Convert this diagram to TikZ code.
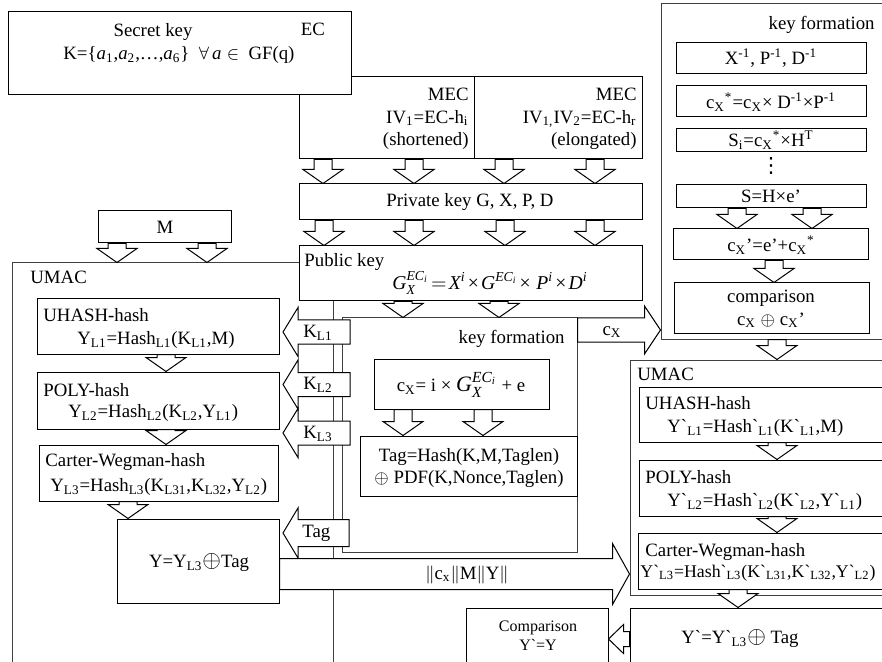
\documentclass[tikz,border=0pt]{standalone}
\usepackage{amsmath}
\usepackage{fontspec}
\setmainfont{Liberation Serif}
\newfontfamily\symfont{DejaVu Sans}
\usetikzlibrary{positioning}
\usetikzlibrary{fit}

% italic letter in the text font, usable in math
\newcommand{\mi}[1]{\text{\itshape #1}}
\newcommand{\tx}{\mkern2mu\text{×}\mkern2mu}
% hollow block arrow pointing down: tail point, tip point
\newcommand{\DownArr}[2]{%
  \coordinate (ta) at (#1);
  \coordinate (tb) at (#2);
  \path [Arrow] ([xshift=-4.5pt]ta) -- ([xshift=4.5pt]ta) -- ([xshift=4.5pt,yshift=7pt]tb)
    -- ([xshift=10pt,yshift=7pt]tb) -- (tb) -- ([xshift=-10pt,yshift=7pt]tb)
    -- ([xshift=-4.5pt,yshift=7pt]tb) -- cycle;}
% hollow block arrow sideways: tail, tip, shaft half, head half, signed head length
\newcommand{\SideArr}[5]{%
  \coordinate (ta) at (#1);
  \coordinate (tb) at (#2);
  \path [Arrow] ([yshift=#3]ta) -- ([xshift=#5,yshift=#3]tb) -- ([xshift=#5,yshift=#4]tb)
    -- (tb) -- ([xshift=#5,yshift=-#4]tb) -- ([xshift=#5,yshift=-#3]tb)
    -- ([yshift=-#3]ta) -- cycle;}

\begin{document}
\begin{tikzpicture}
          [
          x=0.5pt, y=-0.5pt,
          every node/.style={font=\fontsize{9.4}{11.3}\selectfont, inner sep=0pt},
          Box/.style={rectangle, draw=black, fill=white, line width=0.5pt, inner sep=0pt},
          Frame/.style={rectangle, draw=black!75, line width=0.5pt, inner sep=0pt},
          Arrow/.style={draw=black, fill=white, line width=0.5pt},
          Small/.style={font=\fontsize{8}{9.6}\selectfont},
          Big/.style={font=\fontsize{9.8}{12}\selectfont},
          ]
          \useasboundingbox (0,0) rectangle (882,662);
          \clip (0,0) rectangle (882,662);

          % Frames
          \node[Frame, fit={(12,263) (333,680)}] (umac) {};
          \node[Frame, fit={(342,318) (577,552)}] (kform) {};
          \node[Frame, fit={(661,4) (892,339)}] (kform2) {};
          \node[Frame, fit={(630,360) (895,595)}] (umac2) {};

          % Key generation
          \node[Box, fit={(299,77) (474,159)}] (mec1) {};
          \node[Box, fit={(474,77) (642,159)}] (mec2) {};
          \node[Box, fit={(8,12) (351,95)}] (secret) {};
          \node[Box, fit={(299,184) (642,220)}] (priv) {};
          \node[Box, fit={(299,246) (642,301)}] (pub) {};
          \node[Box, fit={(98,211) (231,243)}] (msg) {};

          \node (secret-t) at (153,32) {Secret key};
          \node (secret-ec) at (313,29) {EC};
          \node[anchor=west] (secret-k) at (63,55)
            {K=\{\textit{a}\textsubscript{1},\textit{a}\textsubscript{2},\dots,\textit{a}\textsubscript{6}\}\ \ $\forall\,\mi{a} \in$\ \ GF(q)};
          \node[anchor=east, align=right] (mec1-t) at (469,119)
            {MEC\\IV\textsubscript{1}=EC-h\textsubscript{i}\\(shortened)};
          \node[anchor=east, align=right] (mec2-t) at (637,119)
            {MEC\\IV\textsubscript{1,}IV\textsubscript{2}=EC-h\textsubscript{r}\\(elongated)};
          \node (priv-t) at (470,202) {Private key G, X, P, D};
          \node[anchor=west] (pub-t) at (304,262) {Public key};
          \node[Big] (pub-f) at (490,283)
            {$\mi{G}_{\mi{X}}^{\mi{EC}_{\mi{i}}}\mkern2mu{=}\mkern2mu\mi{X}^{\mi{i}}\tx\mi{G}^{\mi{EC}_{\mi{i}}}\tx\,\mi{P}^{\mi{i}}\tx\mi{D}^{\mi{i}}$};
          \node (msg-t) at (165,227) {M};

          % Left UMAC
          \node[anchor=west] (umac-t) at (30,277) {UMAC};
          \node[Box, fit={(37,299) (279,354)}] (uhash) {};
          \node[Box, fit={(37,372) (279,429)}] (poly) {};
          \node[Box, fit={(39,445) (278,501)}] (carter) {};
          \node[Box, fit={(117,519) (279,603)}] (ybox) {};
          \node[anchor=west] (uhash-t) at (43,315) {UHASH-hash};
          \node[anchor=west] (uhash-f) at (77,340)
            {Y\textsubscript{L1}=Hash\textsubscript{L1}(K\textsubscript{L1},M)};
          \node[anchor=west] (poly-t) at (43,390) {POLY-hash};
          \node[anchor=west] (poly-f) at (68,413)
            {Y\textsubscript{L2}=Hash\textsubscript{L2}(K\textsubscript{L2},Y\textsubscript{L1})};
          \node[anchor=west] (carter-t) at (45,462) {Carter-Wegman-hash};
          \node[anchor=west] (carter-f) at (50,487)
            {Y\textsubscript{L3}=Hash\textsubscript{L3}(K\textsubscript{L31},K\textsubscript{L32},Y\textsubscript{L2})};
          \node (ybox-t) at (199,563) {Y=Y\textsubscript{L3}{\large$\oplus$}Tag};

          % Key formation (middle)
          \node[anchor=east] (kform-t) at (565,339) {key formation};
          \node[Box, fit={(374,359) (549,409)}] (cxbox) {};
          \node[Box, fit={(360,436) (577,496)}] (tagbox) {};
          \node (cxbox-t) at (461,385)
            {c\textsubscript{X}= i × {\fontsize{11}{12}\selectfont$\mi{G}_{\mi{X}}^{\mi{EC}_{\mi{i}}}$} + e};
          \node[align=center] (tagbox-t) at (469,468)
            {Tag=Hash(K,M,Taglen)\\$\oplus$ PDF(K,Nonce,Taglen)};

          % Key formation (right)
          \node[anchor=east] (kform2-t) at (875,25) {key formation};
          \node[Box, fit={(676,43) (866,74)}] (inv) {};
          \node[Box, fit={(676,86) (866,117)}] (cxstar) {};
          \node[Box, fit={(676,129) (866,152)}] (si) {};
          \node[Box, fit={(676,185) (866,208)}] (shex) {};
          \node[Box, fit={(673,229) (868,260)}] (cxprime) {};
          \node[Box, fit={(674,283) (869,333)}] (cmp) {};
          \node (inv-t) at (771,58) {X\textsuperscript{-1}, P\textsuperscript{-1}, D\textsuperscript{-1}};
          \node (cxstar-t) at (771,102)
            {c\textsubscript{X}\textsuperscript{*}=c\textsubscript{X}× D\textsuperscript{-1}×P\textsuperscript{-1}};
          \node (si-t) at (771,140) {S\textsubscript{i}=c\textsubscript{X}\textsuperscript{*}×H\textsuperscript{T}};
          \node[font=\symfont\fontsize{10.5}{12}\selectfont] (dots) at (771,166) {⋮};
          \node (shex-t) at (771,196) {S=H×e’};
          \node (cxprime-t) at (771,245) {c\textsubscript{X}’=e’+c\textsubscript{X}\textsuperscript{*}};
          \node[align=center] (cmp-t) at (771,309) {comparison\\c\textsubscript{X} $\oplus$ c\textsubscript{X}’};

          % Right UMAC
          \node[anchor=west] (umac2-t) at (637,374) {UMAC};
          \node[Box, fit={(639,387) (890,442)}] (uhash2) {};
          \node[Box, fit={(639,460) (890,516)}] (poly2) {};
          \node[Box, fit={(638,533) (890,589)}] (carter2) {};
          \node[Box, fit={(630,608) (895,680)}] (ybox2) {};
          \node[Box, fit={(466,608) (608,680)}] (compare) {};
          \node[anchor=west] (uhash2-t) at (645,403) {UHASH-hash};
          \node[anchor=west] (uhash2-f) at (667,428)
            {Y\textasciigrave\textsubscript{L1}=Hash\textasciigrave\textsubscript{L1}(K\textasciigrave\textsubscript{L1},M)};
          \node[anchor=west] (poly2-t) at (645,477) {POLY-hash};
          \node[anchor=west] (poly2-f) at (667,502)
            {Y\textasciigrave\textsubscript{L2}=Hash\textasciigrave\textsubscript{L2}(K\textasciigrave\textsubscript{L2},Y\textasciigrave\textsubscript{L1})};
          \node[anchor=west] (carter2-t) at (645,552) {Carter-Wegman-hash};
          \node[anchor=west, font=\fontsize{8.9}{11}\selectfont] (carter2-f) at (640,573)
            {Y\textasciigrave\textsubscript{L3}=Hash\textasciigrave\textsubscript{L3}(K\textasciigrave\textsubscript{L31},K\textasciigrave\textsubscript{L32},Y\textasciigrave\textsubscript{L2})};
          \node (ybox2-t) at (740,639) {Y\textasciigrave=Y\textasciigrave\textsubscript{L3}{\large$\oplus$} Tag};
          \node[Small, align=center] (compare-t) at (538,636) {Comparison\\Y\textasciigrave=Y};

          % Lines
          \foreach \x in {323,414,504,595} \DownArr{mec1.south -| \x,0}{priv.north -| \x,0};
          \foreach \x in {324,414,505,595} \DownArr{priv.south -| \x,0}{pub.north -| \x,0};
          \foreach \x in {117,207} \DownArr{msg.south -| \x,0}{umac.north -| \x,0};
          \foreach \x in {403,499} \DownArr{pub.south -| \x,0}{kform.north -| \x,0};
          \foreach \x in {403,483} \DownArr{cxbox.south -| \x,0}{tagbox.north -| \x,0};
          \DownArr{uhash.south -| 166,0}{poly.north -| 166,0};
          \DownArr{poly.south -| 166,0}{carter.north -| 166,0};
          \DownArr{carter.south -| 128,0}{ybox.north -| 128,0};
          \foreach \x in {737,812} \DownArr{shex.south -| \x,0}{cxprime.north -| \x,0};
          \DownArr{cxprime.south -| 774,0}{cmp.north -| 774,0};
          \DownArr{kform2.south -| 777,0}{umac2.north -| 777,0};
          \DownArr{uhash2.south -| 777,0}{poly2.north -| 777,0};
          \DownArr{poly2.south -| 777,0}{carter2.north -| 777,0};
          \DownArr{carter2.south -| 738,0}{ybox2.north -| 738,0};

          % keys and tag handed to the left UMAC
          \coordinate (kl1) at (350,332);   \coordinate (kt1) at (283,332);
          \coordinate (kl2) at (350,384.5); \coordinate (kt2) at (283,384.5);
          \coordinate (kl3) at (350,433);   \coordinate (kt3) at (283,433);
          \coordinate (tagl) at (349,533);  \coordinate (tagt) at (283,533);
          \SideArr{kl1}{kt1}{6pt}{12.25pt}{7.5pt};
          \SideArr{kl2}{kt2}{6pt}{12.25pt}{7.5pt};
          \SideArr{kl3}{kt3}{6pt}{12.25pt}{7.5pt};
          \SideArr{tagl}{tagt}{6.75pt}{12.5pt}{7.5pt};
          \node[anchor=west] (kl1-t) at (303,333) {K\textsubscript{L1}};
          \node[anchor=west] (kl2-t) at (303,385) {K\textsubscript{L2}};
          \node[anchor=west] (kl3-t) at (303,434) {K\textsubscript{L3}};
          \node[anchor=west] (tag-t) at (302,533) {Tag};

          \SideArr{kform.east |- 0,330}{kform2.west |- 0,330}{6pt}{12pt}{-8pt};
          \node (cx-t) at (612,332) {c\textsubscript{X}};
          \SideArr{ybox.east |- 0,574}{umac2.west |- 0,574}{7.75pt}{15.25pt}{-8.5pt};
          \node (send-t) at (467,575) {$\|$c\textsubscript{x}$\|$M$\|$Y$\|$};
          \SideArr{ybox2.west |- 0,639}{compare.east |- 0,639}{3.75pt}{7.25pt}{7.5pt};

\end{tikzpicture}
\end{document}
